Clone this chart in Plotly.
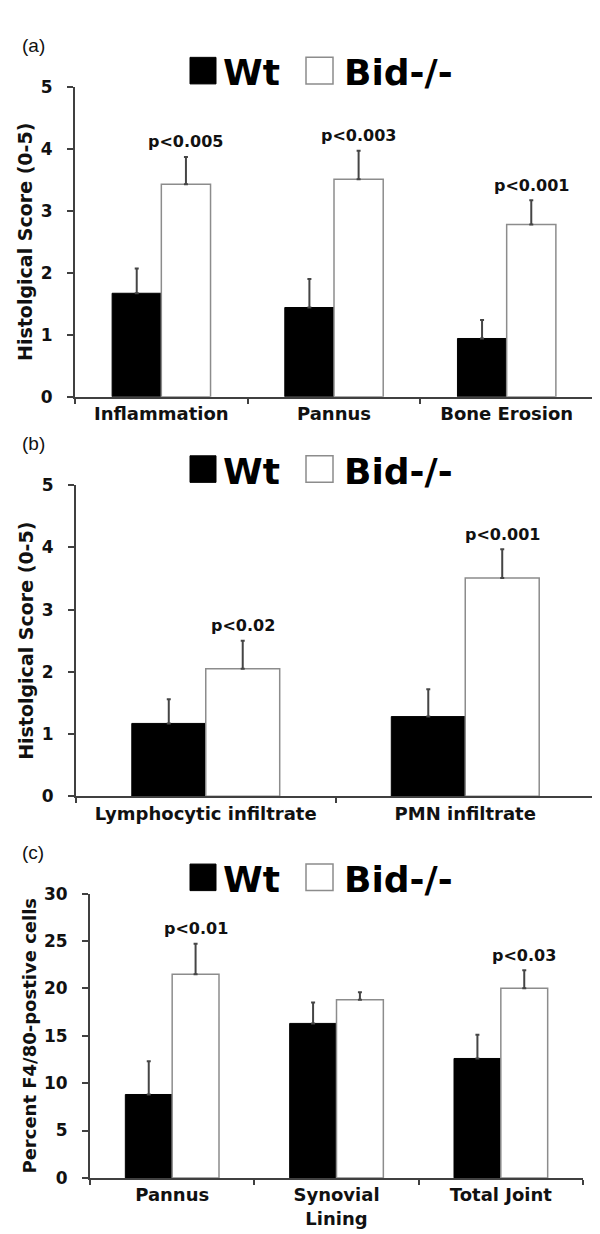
import plotly.graph_objects as go

# --- data ---
cats_a = ["Inflammation", "Pannus", "Bone Erosion"]
wt_a = [1.67, 1.44, 0.94]
wt_a_err = [0.40, 0.46, 0.30]
bid_a = [3.43, 3.51, 2.78]
bid_a_err = [0.44, 0.46, 0.39]
p_a = ["p<0.005", "p<0.003", "p<0.001"]

cats_b = ["Lymphocytic infiltrate", "PMN infiltrate"]
wt_b = [1.17, 1.28]
wt_b_err = [0.39, 0.44]
bid_b = [2.05, 3.51]
bid_b_err = [0.45, 0.46]
p_b = ["p<0.02", "p<0.001"]

cats_c = ["Pannus", "Synovial<br>Lining", "Total Joint"]
wt_c = [8.8, 16.3, 12.6]
wt_c_err = [3.5, 2.2, 2.5]
bid_c = [21.5, 18.8, 20.0]
bid_c_err = [3.2, 0.8, 1.9]
p_c = ["p<0.01", "", "p<0.03"]

W, H = 600, 1234
FONT = "DejaVu Sans"
AX = "#404040"
BARGAP = 0.43

# panel boxes in px: (left, right, top, bottom) of the plot area
panels = [
    dict(key="", cats=cats_a, wt=wt_a, wte=wt_a_err, bid=bid_a, bide=bid_a_err, p=p_a,
         box=(67, 585, 70, 385), yr=5, dt=1, title="Histolgical Score (0-5)", tag="(a)"),
    dict(key="2", cats=cats_b, wt=wt_b, wte=wt_b_err, bid=bid_b, bide=bid_b_err, p=p_b,
         box=(68, 587, 475, 791), yr=5, dt=1, title="Histolgical Score (0-5)", tag="(b)"),
    dict(key="3", cats=cats_c, wt=wt_c, wte=wt_c_err, bid=bid_c, bide=bid_c_err, p=p_c,
         box=(82, 575, 890, 1179), yr=30, dt=5, title="Percent F4/80-postive cells", tag="(c)"),
]


def px(x):
    return x / W


def py(y):
    return 1 - y / H


fig = go.Figure()
layout = {}
shapes, annos = [], []

for pn in panels:
    k = pn["key"]
    l, r, t, b = pn["box"]
    xa, ya = "x" + k, "y" + k
    fig.add_trace(go.Bar(
        x=pn["cats"], y=pn["wt"], xaxis=xa, yaxis=ya, name="Wt", showlegend=False,
        marker=dict(color="#000000", line=dict(color="#000000", width=1)),
        error_y=dict(type="data", symmetric=False, array=pn["wte"], arrayminus=[0] * len(pn["wt"]),
                     color="#454545", thickness=2, width=2),
    ))
    fig.add_trace(go.Bar(
        x=pn["cats"], y=pn["bid"], xaxis=xa, yaxis=ya, name="Bid-/-", showlegend=False,
        marker=dict(color="#ffffff", line=dict(color="#8c8c8c", width=1.5)),
        error_y=dict(type="data", symmetric=False, array=pn["bide"], arrayminus=[0] * len(pn["bid"]),
                     color="#454545", thickness=2, width=2),
    ))

    layout["xaxis" + k] = dict(
        domain=[px(l), px(r)], anchor=ya, type="category", range=[-0.5, len(pn["cats"]) - 0.5],
        showline=True, linecolor=AX, linewidth=2, ticks="outside", tickson="boundaries",
        ticklen=5, tickwidth=1.5, tickcolor=AX, showgrid=False, zeroline=False,
        tickfont=dict(family=FONT, size=18, color="#111", weight="bold"),
    )
    layout["yaxis" + k] = dict(
        domain=[py(b), py(t)], anchor=xa, range=[0, pn["yr"]], dtick=pn["dt"],
        showline=True, linecolor=AX, linewidth=2, ticks="outside", ticklen=6,
        tickwidth=1.5, tickcolor=AX, showgrid=False, zeroline=False, ticklabelstandoff=11,
        tickfont=dict(family=FONT, size=17, color="#111", weight="bold"),
        title=dict(text=pn["title"], standoff=3,
                   font=dict(family=FONT, size=19 if pn["yr"] == 5 else 18, color="#111", weight="bold")),
    )

    # p-value labels above the Bid-/- bars
    off = (1 - BARGAP) / 4
    for i, txt in enumerate(pn["p"]):
        if not txt:
            continue
        annos.append(dict(
            xref=xa, yref=ya, x=i + off, y=pn["bid"][i] + pn["bide"][i], text=txt,
            showarrow=False, yshift=15, yanchor="middle", xanchor="center",
            font=dict(family=FONT, size=16, color="#111", weight="bold"),
        ))

    # panel tag and the legend row drawn above each panel
    annos.append(dict(xref="paper", yref="paper", x=px(12), y=py(t - 42), text=pn["tag"],
                      xanchor="left", yanchor="middle", showarrow=False,
                      font=dict(family="Liberation Sans", size=19, color="#111")))
    sq_top, sq_bot = t - 30, t - 3
    shapes.append(dict(type="rect", xref="paper", yref="paper", x0=px(182), x1=px(208),
                       y0=py(sq_bot), y1=py(sq_top), fillcolor="#000", line=dict(color="#000", width=1)))
    shapes.append(dict(type="rect", xref="paper", yref="paper", x0=px(298), x1=px(325),
                       y0=py(sq_bot), y1=py(sq_top), fillcolor="#fff", line=dict(color="#8c8c8c", width=1.5)))
    for xx, txt in [(213, "Wt"), (334, "Bid-/-")]:
        annos.append(dict(xref="paper", yref="paper", x=px(xx), y=py((sq_top + sq_bot) / 2 + 2),
                          text=txt, xanchor="left", yanchor="middle", showarrow=False,
                          font=dict(family=FONT, size=36, color="#000", weight="bold")))

fig.update_layout(
    width=W, height=H, margin=dict(l=0, r=0, t=0, b=0),
    paper_bgcolor="white", plot_bgcolor="white",
    barmode="group", bargap=BARGAP, bargroupgap=0,
    showlegend=False, shapes=shapes, annotations=annos,
    font=dict(family=FONT, color="#111"),
    **layout,
)

fig.write_html("out.html")
